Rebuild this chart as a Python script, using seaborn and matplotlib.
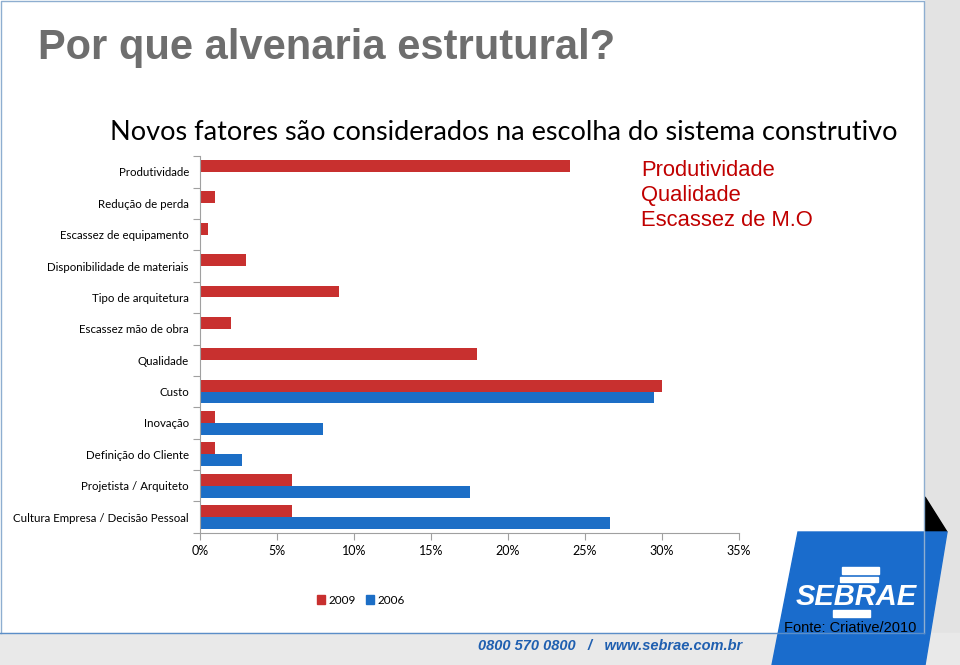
import numpy as np
import pandas as pd
import seaborn as sns
import matplotlib.pyplot as plt
from matplotlib.patches import Patch, Polygon, Rectangle

categories = ['Produtividade', 'Redução de perda', 'Escassez de equipamento',
              'Disponibilidade de materiais', 'Tipo de arquitetura',
              'Escassez mão de obra', 'Qualidade', 'Custo', 'Inovação',
              'Definição do Cliente', 'Projetista / Arquiteto',
              'Cultura Empresa / Decisão Pessoal']
vals_2009 = [24.0, 1.0, 0.5, 3.0, 9.0, 2.0, 18.0, 30.0, 1.0, 1.0, 6.0, 6.0]
vals_2006 = [np.nan] * 7 + [29.5, 8.0, 2.7, 17.5, 26.6]
xticks = [0, 5, 10, 15, 20, 25, 30, 35]
highlights = ['Produtividade', 'Qualidade', 'Escassez de M.O']

RED = '#c8302f'
BLUE = '#1c6ec6'

df = pd.DataFrame({
    'fator': categories * 2,
    'ano': ['2009'] * len(categories) + ['2006'] * len(categories),
    'pct': vals_2009 + vals_2006,
})

fig = plt.figure(figsize=(9.6, 6.65), dpi=100)

# slide background drawn in pixel coordinates
bg = fig.add_axes([0, 0, 1, 1], zorder=0)
bg.set_xlim(0, 960)
bg.set_ylim(665, 0)
bg.axis('off')
bg.add_patch(Rectangle((925, 0), 35, 665, color='#e3e3e3'))
bg.add_patch(Rectangle((0, 633), 960, 32, color='#e9e9e9'))
bg.plot([1, 1, 924, 924], [633, 1, 1, 633], color='#8eaed0', lw=1)
bg.plot([0, 924], [633, 633], color='#5b8ec8', lw=1)
bg.add_patch(Polygon([(925, 497), (947, 532), (925, 532)], color='black'))
bg.add_patch(Polygon([(798, 532), (947, 532), (925, 665), (772, 665)],
                     color='#1a6ccc'))
bg.add_patch(Rectangle((842, 567), 37, 7, color='white'))
bg.add_patch(Rectangle((840, 577), 38, 5, color='white'))
bg.add_patch(Rectangle((833, 610), 37, 7, color='white'))
bg.text(856, 597, 'SEBRAE', color='white', fontsize=21, fontweight='bold',
        style='italic', family='Liberation Sans', ha='center', va='center')
bg.text(850, 628, 'Fonte: Criative/2010', color='black', fontsize=10.5,
        family='Liberation Sans', ha='center', va='center')
bg.text(610, 646, '0800 570 0800   /   www.sebrae.com.br', color='#1f5fb0',
        fontsize=10.5, fontweight='bold', style='italic',
        family='Liberation Sans', ha='center', va='center')
bg.text(38, 48, 'Por que alvenaria estrutural?', color='#6e6e6e',
        fontsize=30, fontweight='bold', family='Liberation Sans',
        ha='left', va='center')
bg.text(504, 133, 'Novos fatores são considerados na escolha do sistema construtivo',
        color='black', fontsize=19.5, family='Lato', ha='center', va='center')
for i, t in enumerate(highlights):
    bg.text(641, 170 + 25.5 * i, t, color='#c00000', fontsize=15.8,
            family='Liberation Sans', ha='left', va='center')

# chart
ax = fig.add_axes([200 / 960, 1 - 532.7 / 665, 539 / 960, 376.4 / 665], zorder=2)
ax.patch.set_alpha(0)
sns.barplot(data=df, y='fator', x='pct', hue='ano', orient='h',
            palette={'2009': RED, '2006': BLUE}, width=0.76,
            saturation=1, ax=ax, legend=False)
n = len(categories)
ax.set_xlim(0, 35)
ax.set_ylim(n - 0.5, -0.5)
ax.set_xticks(xticks)
ax.set_xticklabels([f'{v}%' for v in xticks], fontsize=9, family='Lato')
ax.set_yticks(np.arange(-0.5, n, 1))
ax.set_yticklabels([])
ax.set_yticks(np.arange(n), minor=True)
ax.set_yticklabels(categories, minor=True, fontsize=8.3, family='Lato')
ax.tick_params(axis='y', which='major', length=5, color='#a0a0a0')
ax.tick_params(axis='y', which='minor', length=0, pad=8)
ax.tick_params(axis='x', length=5, color='#a0a0a0', pad=4)
ax.set_xlabel('')
ax.set_ylabel('')
for s in ['top', 'right']:
    ax.spines[s].set_visible(False)
for s in ['left', 'bottom']:
    ax.spines[s].set_color('#a0a0a0')

handles = [Patch(color=RED, label='2009'), Patch(color=BLUE, label='2006')]
fig.legend(handles=handles, loc='center', bbox_to_anchor=(361 / 960, 1 - 600 / 665),
           ncol=2, frameon=False, handlelength=0.7, handleheight=0.7,
           handletextpad=0.3, columnspacing=0.8, prop={'family': 'Lato', 'size': 8.5})

fig.savefig('out.png', dpi=100)
